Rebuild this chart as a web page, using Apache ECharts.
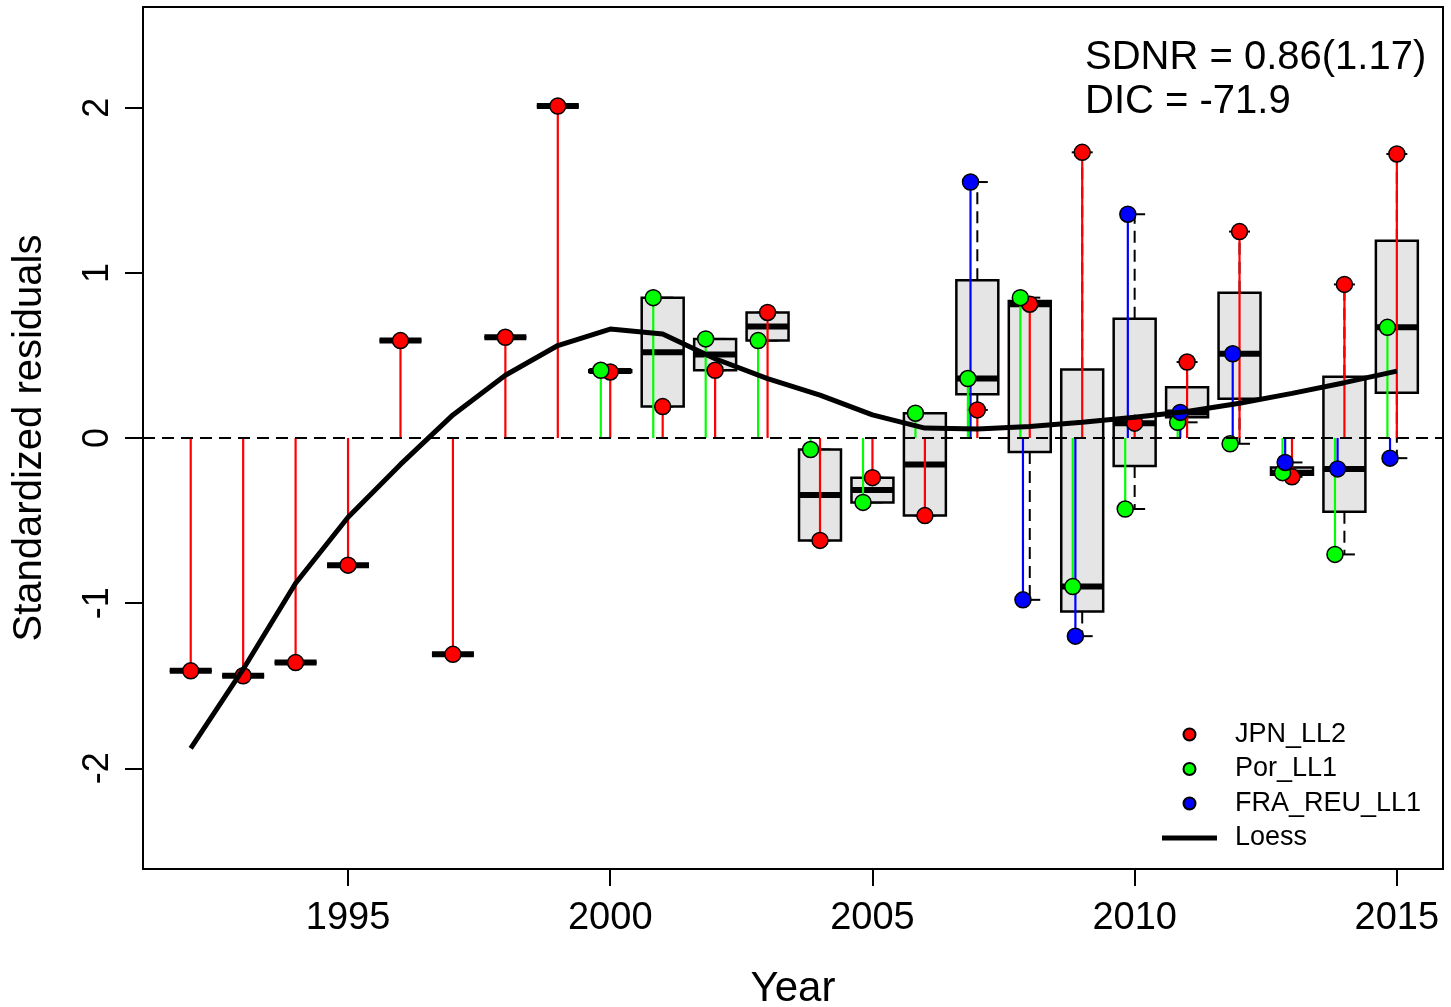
<!DOCTYPE html>
<html>
<head>
<meta charset="utf-8">
<script src="https://cdn.jsdelivr.net/npm/echarts@6.0.0/dist/echarts.min.js"></script>
<style>
html, body { margin: 0; padding: 0; background: #fff; }
#chart { width: 1451px; height: 1007px; }
</style>
</head>
<body>
<div id="chart"></div>
<script>
// residuals, one value per year (null = no index that year)
const years = [1992, 1993, 1994, 1995, 1996, 1997, 1998, 1999, 2000, 2001, 2002, 2003,
               2004, 2005, 2006, 2007, 2008, 2009, 2010, 2011, 2012, 2013, 2014, 2015];
const jpnLL2 = [-1.41, -1.44, -1.36, -0.77, 0.59, -1.31, 0.61, 2.01, 0.40, 0.19, 0.41, 0.76,
                -0.62, -0.24, -0.47, 0.17, 0.81, 1.73, 0.09, 0.46, 1.25, -0.235, 0.93, 1.72];
const porLL1 = [null, null, null, null, null, null, null, null, 0.41, 0.85, 0.60, 0.59,
                -0.07, -0.39, 0.15, 0.36, 0.85, -0.90, -0.43, 0.095, -0.035, -0.21, -0.705, 0.67];
const fraReuLL1 = [null, null, null, null, null, null, null, null, null, null, null, null,
                   null, null, null, 1.55, -0.98, -1.2, 1.355, 0.155, 0.51, -0.148, -0.187, -0.122];
const loess = [-1.88, -1.40, -0.88, -0.48, -0.16, 0.14, 0.38, 0.56, 0.66, 0.63, 0.48, 0.36,
               0.26, 0.14, 0.06, 0.055, 0.07, 0.095, 0.125, 0.16, 0.21, 0.27, 0.335, 0.405];
const xTicks = [1995, 2000, 2005, 2010, 2015];
const yTicks = [-2, -1, 0, 1, 2];
const fleetNames = ['JPN_LL2', 'Por_LL1', 'FRA_REU_LL1'];
const statLines = ['SDNR = 0.86(1.17)', 'DIC = -71.9'];

const fleetData = [jpnLL2, porLL1, fraReuLL1];
const fleetColors = ['#ff0000', '#00ff00', '#0000ff'];
const fleetShift = [0, -0.18, -0.13];   // small horizontal jitter per fleet
const FONT = '"Liberation Sans", Arial, sans-serif';

// R's fivenum (Tukey hinges)
function fivenum(v) {
  const x = v.slice().sort((a, b) => a - b);
  const n = x.length;
  const n4 = Math.floor((n + 3) / 2) / 2;
  const d = [1, n4, (n + 1) / 2, n + 1 - n4, n];
  return d.map(i => 0.5 * (x[Math.floor(i) - 1] + x[Math.ceil(i) - 1]));
}

const boxData = years.map((yr, i) => {
  const vals = fleetData.map(f => f[i]).filter(v => v != null);
  return [yr].concat(fivenum(vals));
});

function renderBox(params, api) {
  const x = api.value(0);
  const half = api.size([0.4, 0])[0];
  const cap = api.size([0.2, 0])[0];
  const c = api.coord([x, 0])[0];
  const yMn = api.coord([x, api.value(1)])[1];
  const yLo = api.coord([x, api.value(2)])[1];
  const yMd = api.coord([x, api.value(3)])[1];
  const yHi = api.coord([x, api.value(4)])[1];
  const yMx = api.coord([x, api.value(5)])[1];
  const dash = { stroke: '#000', lineWidth: 2, lineDash: [12, 7] };
  const solid = { stroke: '#000', lineWidth: 2 };
  return {
    type: 'group',
    children: [
      { type: 'line', shape: { x1: c, y1: yHi, x2: c, y2: yMx }, style: dash },
      { type: 'line', shape: { x1: c, y1: yLo, x2: c, y2: yMn }, style: dash },
      { type: 'line', shape: { x1: c - cap, y1: yMx, x2: c + cap, y2: yMx }, style: solid },
      { type: 'line', shape: { x1: c - cap, y1: yMn, x2: c + cap, y2: yMn }, style: solid },
      { type: 'rect', shape: { x: c - half, y: yHi, width: 2 * half, height: yLo - yHi },
        style: { fill: '#e5e5e5', stroke: '#000', lineWidth: 2.5 } },
      { type: 'line', shape: { x1: c - half, y1: yMd, x2: c + half, y2: yMd },
        style: { stroke: '#000', lineWidth: 6 } }
    ]
  };
}

function stemRenderer(color) {
  return function (params, api) {
    const p0 = api.coord([api.value(0), 0]);
    const p1 = api.coord([api.value(0), api.value(1)]);
    return {
      type: 'line',
      shape: { x1: p0[0], y1: p0[1], x2: p1[0], y2: p1[1] },
      style: { stroke: color, lineWidth: 2.2 }
    };
  };
}

const series = [{
  type: 'custom',
  renderItem: renderBox,
  data: boxData,
  silent: true,
  markLine: {
    silent: true,
    symbol: 'none',
    label: { show: false },
    lineStyle: { color: '#000', width: 2, type: [12, 7] },
    data: [{ yAxis: 0 }]
  }
}];

fleetData.forEach((vals, k) => {
  const pts = [];
  years.forEach((yr, i) => { if (vals[i] != null) pts.push([yr + fleetShift[k], vals[i]]); });
  series.push({ type: 'custom', renderItem: stemRenderer(fleetColors[k]), data: pts, silent: true });
  series.push({
    name: fleetNames[k],
    type: 'scatter',
    data: pts,
    symbol: 'circle',
    symbolSize: 16,
    itemStyle: { color: fleetColors[k], borderColor: '#000', borderWidth: 1.5, opacity: 1 }
  });
});

series.push({
  name: 'Loess',
  type: 'line',
  data: years.map((yr, i) => [yr, loess[i]]),
  symbol: 'none',
  showSymbol: false,
  z: 5,
  lineStyle: { color: '#000', width: 5 },
  itemStyle: { color: '#000' }
});

const chart = echarts.init(document.getElementById('chart'));
chart.setOption({
  animation: false,
  backgroundColor: '#fff',
  grid: { left: 143, right: 8, top: 7, bottom: 138, show: true, borderColor: '#000', borderWidth: 2,
          containLabel: false, outerBoundsMode: 'none' },
  xAxis: {
    type: 'value',
    min: 1991.09,
    max: 2015.88,
    splitLine: { show: false },
    axisLine: { show: false, onZero: false },
    axisTick: { show: true, length: 17, customValues: xTicks, lineStyle: { color: '#000', width: 2 } },
    axisLabel: { customValues: xTicks, fontSize: 38, color: '#000', margin: 31, fontFamily: FONT,
                 formatter: v => String(v) },
    name: 'Year',
    nameLocation: 'middle',
    nameGap: 99,
    nameTextStyle: { fontSize: 42, color: '#000', fontFamily: FONT }
  },
  yAxis: {
    type: 'value',
    min: -2.61,
    max: 2.61,
    splitLine: { show: false },
    axisLine: { show: false, onZero: false },
    axisTick: { show: true, length: 18, customValues: yTicks, lineStyle: { color: '#000', width: 2 } },
    axisLabel: { customValues: yTicks, rotate: 90, fontSize: 36, color: '#000', margin: 27, fontFamily: FONT,
                 formatter: v => String(v) },
    name: 'Standardized residuals',
    nameLocation: 'middle',
    nameGap: 93,
    nameTextStyle: { fontSize: 40, color: '#000', fontFamily: FONT }
  },
  legend: {
    orient: 'vertical',
    left: 1157,
    top: 716,
    itemWidth: 55,
    itemHeight: 12,
    itemGap: 7.5,
    selectedMode: false,
    data: [
      { name: 'JPN_LL2', icon: 'circle' },
      { name: 'Por_LL1', icon: 'circle' },
      { name: 'FRA_REU_LL1', icon: 'circle' },
      { name: 'Loess', icon: 'path://M0,0L0.01,0L0.01,0.01ZM0,3.5L55,3.5L55,8.5L0,8.5ZM0,12L0.01,12L0.01,11.99Z',
        itemStyle: { color: '#000', borderWidth: 0 } }
    ],
    textStyle: { fontSize: 27, color: '#000', fontFamily: FONT, padding: [0, 0, 0, 13] }
  },
  graphic: statLines.map((t, i) => ({
    type: 'text',
    x: 1085,
    y: 58 + i * 44,
    style: { text: t, fill: '#000', font: '40px ' + FONT, verticalAlign: 'middle' }
  })),
  series: series
});
</script>
</body>
</html>
